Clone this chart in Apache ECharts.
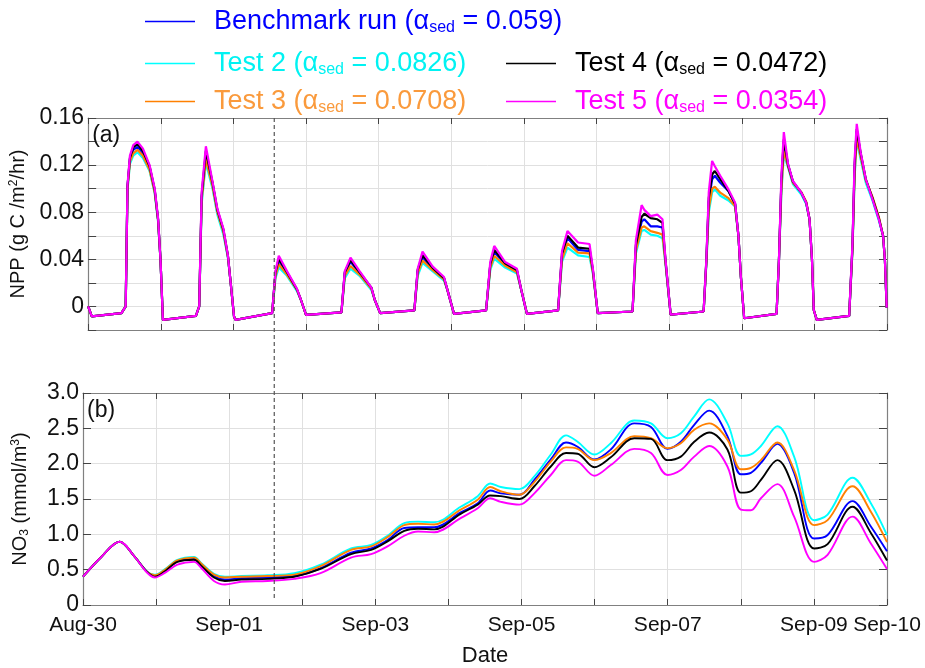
<!DOCTYPE html>
<html>
<head>
<meta charset="utf-8">
<script src="https://cdn.jsdelivr.net/npm/echarts@6/dist/echarts.min.js"></script>
<style>
  html, body { margin: 0; padding: 0; background: #fff; }
  #main { width: 925px; height: 668px; }
</style>
</head>
<body>
<div id="main"></div>
<script>
// series names / legend
var seriesNames = ['Benchmark run', 'Test 2', 'Test 3', 'Test 4', 'Test 5'];
var alphaSed = ['0.059', '0.0826', '0.0708', '0.0472', '0.0354'];
var lineColors = ['#0000ff', '#00ffff', '#ff8000', '#000000', '#ff00ff'];
var textColors = ['#0000ff', '#00f2f2', '#fa9a3c', '#000000', '#ff00ff'];

// x axis: hours since Aug-30 00:00, one tick per day
var dayLabels = ['Aug-30', '', 'Sep-01', '', 'Sep-03', '', 'Sep-05', '', 'Sep-07', '', 'Sep-09', 'Sep-10'];
var nppTickLabels = ['0', '0.04', '0.08', '0.12', '0.16'];
var no3TickLabels = ['0', '0.5', '1.0', '1.5', '2.0', '2.5', '3.0'];
var dashHour = 61.5;

// (a) NPP, g C /m2/hr
var nppHours = [0, 1.2, 11.0, 12.4, 13.0, 13.8, 14.9, 16.3, 18.1, 20.3, 22.0, 23.1, 23.9, 24.7,
  35.6, 36.7, 37.5, 38.9, 41.1, 42.7, 44.7, 46.2, 47.1, 48.2, 48.7,
  60.8, 61.9, 63.0, 65.7, 69.0, 70.3, 72.0,
  83.7, 84.8, 86.7, 89.7, 93.6, 94.7, 96.5,
  107.8, 108.9, 110.5, 113.8, 117.6, 118.7, 120.9,
  131.5, 132.9, 134.2, 137.8, 141.7, 143.1, 145.0,
  155.3, 156.6, 158.4, 161.9, 165.7, 166.8, 168.4,
  179.9, 181.0, 182.9, 183.8, 185.9, 188.1, 189.8, 190.8, 192.5,
  203.4, 204.3, 205.1, 206.2, 207.1, 208.9, 211.6, 213.8, 214.9, 215.7, 216.8,
  227.5, 228.3, 229.1, 229.9, 231.3, 232.9, 235.7, 237.3, 238.4, 239.2, 239.8, 240.8,
  251.5, 252.6, 253.3, 254.0, 255.3, 257.0, 259.2, 261.3, 262.7, 263.3, 263.9];

var nppBench = [0, -0.0085, -0.0057, 0, 0.102, 0.125, 0.133, 0.1355, 0.130, 0.118, 0.098, 0.074, 0.040, -0.0114,
  -0.008, 0, 0.092, 0.128, 0.104, 0.081, 0.064, 0.042, 0.020, -0.0085, -0.0114,
  -0.0057, 0.028, 0.039, 0.028, 0.014, 0.0057, -0.0071,
  -0.0051, 0.028, 0.038, 0.028, 0.0155, 0.0057, -0.0057,
  -0.0034, 0.030, 0.042, 0.032, 0.024, 0.0143, -0.0063,
  -0.0034, 0.035, 0.0463, 0.036, 0.030, 0.0143, -0.0063,
  -0.0034, 0.043, 0.058, 0.048, 0.047, 0.030, -0.0057,
  -0.0043, 0.050, 0.072, 0.074, 0.068, 0.068, 0.067, 0.038, -0.007,
  -0.0043, 0.038, 0.089, 0.108, 0.111, 0.105, 0.098, 0.087, 0.060, 0.0256, -0.010,
  -0.0063, 0.040, 0.105, 0.140, 0.120, 0.106, 0.096, 0.088, 0.074, 0.040, -0.003, -0.0114,
  -0.008, 0.051, 0.118, 0.149, 0.129, 0.107, 0.091, 0.074, 0.060, 0.040, -0.001];

var nppTest2 = [0, -0.0085, -0.0057, 0, 0.099, 0.121, 0.128, 0.131, 0.126, 0.115, 0.096, 0.072, 0.040, -0.0114,
  -0.008, 0, 0.087, 0.122, 0.100, 0.078, 0.061, 0.041, 0.020, -0.0085, -0.0114,
  -0.0057, 0.024, 0.033, 0.026, 0.013, 0.0057, -0.0071,
  -0.0051, 0.024, 0.032, 0.026, 0.014, 0.0057, -0.0057,
  -0.0034, 0.026, 0.037, 0.030, 0.022, 0.0143, -0.0063,
  -0.0034, 0.031, 0.0406, 0.033, 0.028, 0.0143, -0.0063,
  -0.0034, 0.038, 0.050, 0.0434, 0.042, 0.028, -0.0057,
  -0.0043, 0.045, 0.064, 0.065, 0.061, 0.060, 0.058, 0.036, -0.007,
  -0.0043, 0.036, 0.080, 0.097, 0.0994, 0.094, 0.090, 0.085, 0.060, 0.0256, -0.010,
  -0.0063, 0.040, 0.097, 0.129, 0.118, 0.104, 0.095, 0.087, 0.074, 0.040, -0.003, -0.0114,
  -0.008, 0.048, 0.110, 0.141, 0.125, 0.105, 0.090, 0.073, 0.060, 0.040, -0.001];

var nppTest3 = [0, -0.0085, -0.0057, 0, 0.100, 0.123, 0.130, 0.133, 0.128, 0.116, 0.097, 0.073, 0.040, -0.0114,
  -0.008, 0, 0.090, 0.125, 0.102, 0.080, 0.063, 0.042, 0.020, -0.0085, -0.0114,
  -0.0057, 0.026, 0.0357, 0.027, 0.014, 0.0057, -0.0071,
  -0.0051, 0.026, 0.0343, 0.027, 0.015, 0.0057, -0.0057,
  -0.0034, 0.028, 0.039, 0.031, 0.023, 0.0143, -0.0063,
  -0.0034, 0.033, 0.043, 0.0345, 0.029, 0.0143, -0.0063,
  -0.0034, 0.040, 0.0537, 0.0457, 0.045, 0.029, -0.0057,
  -0.0043, 0.047, 0.067, 0.068, 0.064, 0.0625, 0.061, 0.037, -0.007,
  -0.0043, 0.037, 0.083, 0.100, 0.1017, 0.0966, 0.092, 0.085, 0.060, 0.0256, -0.010,
  -0.0063, 0.040, 0.100, 0.132, 0.119, 0.105, 0.097, 0.089, 0.074, 0.040, -0.003, -0.0114,
  -0.008, 0.049, 0.113, 0.143, 0.127, 0.107, 0.093, 0.076, 0.060, 0.040, -0.001];

var nppTest4 = [0, -0.0085, -0.0057, 0, 0.102, 0.126, 0.135, 0.138, 0.132, 0.119, 0.099, 0.074, 0.040, -0.0114,
  -0.008, 0, 0.094, 0.132, 0.105, 0.082, 0.065, 0.043, 0.020, -0.0085, -0.0114,
  -0.0057, 0.029, 0.0406, 0.029, 0.0145, 0.0057, -0.0071,
  -0.0051, 0.029, 0.0394, 0.029, 0.016, 0.0057, -0.0057,
  -0.0034, 0.031, 0.0434, 0.033, 0.024, 0.0143, -0.0063,
  -0.0034, 0.036, 0.048, 0.0366, 0.031, 0.0143, -0.0063,
  -0.0034, 0.045, 0.060, 0.050, 0.049, 0.031, -0.0057,
  -0.0043, 0.052, 0.076, 0.0787, 0.075, 0.074, 0.071, 0.039, -0.007,
  -0.0043, 0.039, 0.092, 0.112, 0.115, 0.108, 0.098, 0.087, 0.060, 0.0256, -0.010,
  -0.0063, 0.040, 0.107, 0.142, 0.120, 0.106, 0.0966, 0.088, 0.074, 0.040, -0.003, -0.0114,
  -0.008, 0.052, 0.120, 0.1506, 0.130, 0.108, 0.092, 0.075, 0.060, 0.040, -0.001];

var nppTest5 = [0, -0.0085, -0.0057, 0, 0.103, 0.128, 0.137, 0.140, 0.134, 0.120, 0.100, 0.075, 0.040, -0.0114,
  -0.008, 0, 0.097, 0.136, 0.106, 0.083, 0.066, 0.043, 0.020, -0.0085, -0.0114,
  -0.0057, 0.030, 0.043, 0.030, 0.015, 0.0057, -0.0071,
  -0.0051, 0.030, 0.0414, 0.030, 0.016, 0.0057, -0.0057,
  -0.0034, 0.032, 0.0466, 0.034, 0.025, 0.0143, -0.0063,
  -0.0034, 0.038, 0.0514, 0.0377, 0.032, 0.0143, -0.0063,
  -0.0034, 0.047, 0.064, 0.0543, 0.053, 0.032, -0.0057,
  -0.0043, 0.056, 0.086, 0.082, 0.0767, 0.078, 0.074, 0.040, -0.007,
  -0.0043, 0.040, 0.097, 0.1236, 0.119, 0.111, 0.0994, 0.088, 0.060, 0.0256, -0.010,
  -0.0063, 0.040, 0.111, 0.148, 0.121, 0.1065, 0.0966, 0.088, 0.074, 0.040, -0.003, -0.0114,
  -0.008, 0.054, 0.125, 0.155, 0.131, 0.108, 0.091, 0.074, 0.060, 0.040, -0.001];

// (b) NO3, mmol/m3
var no3Hours = [0, 6, 12, 17, 21, 23.6, 26.7, 31, 36.5, 38.7, 43, 46.6, 52, 60.6, 69.4, 78, 88, 94.6, 100, 105.5,
  110, 115.3, 124, 129.6, 133.7, 137.2, 143.3, 148.2, 153.6, 158.6, 162.4, 167.9, 173.3, 181, 186.5, 191.9,
  196.3, 200.7, 205.6, 211.6, 216, 219.3, 222.6, 228, 233.5, 240.1, 244.5, 252.7, 258.7, 264];

var no3Bench = [0.40, 0.68, 0.895, 0.68, 0.47, 0.41, 0.48, 0.62, 0.65, 0.57, 0.41, 0.36, 0.38, 0.39, 0.41, 0.52, 0.74, 0.80, 0.92, 1.09,
  1.10, 1.10, 1.31, 1.44, 1.62, 1.58, 1.56, 1.77, 2.06, 2.30, 2.24, 2.06, 2.20, 2.57, 2.52, 2.21,
  2.31, 2.55, 2.75, 2.39, 1.85, 1.87, 2.01, 2.28, 1.87, 0.94, 0.99, 1.47, 1.11, 0.76];
var no3Test2 = [0.40, 0.68, 0.895, 0.68, 0.47, 0.43, 0.50, 0.64, 0.68, 0.60, 0.44, 0.40, 0.41, 0.42, 0.45, 0.57, 0.80, 0.85, 0.98, 1.16,
  1.18, 1.17, 1.39, 1.54, 1.72, 1.67, 1.64, 1.82, 2.13, 2.40, 2.31, 2.13, 2.29, 2.61, 2.57, 2.36,
  2.43, 2.67, 2.91, 2.57, 2.11, 2.13, 2.25, 2.53, 2.10, 1.20, 1.28, 1.80, 1.44, 0.99];
var no3Test3 = [0.40, 0.68, 0.895, 0.68, 0.47, 0.42, 0.49, 0.63, 0.67, 0.59, 0.43, 0.39, 0.40, 0.41, 0.43, 0.55, 0.78, 0.83, 0.96, 1.13,
  1.15, 1.14, 1.35, 1.49, 1.67, 1.61, 1.56, 1.74, 2.03, 2.23, 2.21, 2.05, 2.15, 2.39, 2.36, 2.22,
  2.29, 2.48, 2.57, 2.34, 1.92, 1.94, 2.05, 2.30, 1.91, 1.13, 1.20, 1.68, 1.32, 0.89];
var no3Test4 = [0.40, 0.68, 0.895, 0.68, 0.47, 0.40, 0.47, 0.61, 0.64, 0.56, 0.39, 0.34, 0.36, 0.37, 0.40, 0.51, 0.72, 0.78, 0.90, 1.05,
  1.08, 1.07, 1.29, 1.42, 1.55, 1.54, 1.50, 1.68, 1.96, 2.15, 2.14, 1.95, 2.09, 2.36, 2.35, 2.05,
  2.10, 2.31, 2.44, 2.20, 1.59, 1.61, 1.77, 2.05, 1.63, 0.80, 0.86, 1.39, 1.02, 0.63];
var no3Test5 = [0.40, 0.68, 0.895, 0.68, 0.46, 0.39, 0.45, 0.57, 0.61, 0.53, 0.34, 0.29, 0.33, 0.34, 0.37, 0.45, 0.67, 0.72, 0.83, 0.98,
  1.04, 1.03, 1.23, 1.37, 1.51, 1.46, 1.42, 1.58, 1.84, 2.05, 2.03, 1.83, 1.98, 2.21, 2.15, 1.84,
  1.91, 2.10, 2.25, 1.96, 1.35, 1.34, 1.51, 1.71, 1.25, 0.61, 0.71, 1.25, 0.87, 0.51];

var nppAll = [nppBench, nppTest2, nppTest3, nppTest4, nppTest5];
var no3All = [no3Bench, no3Test2, no3Test3, no3Test4, no3Test5];

function pairs(xs, ys) {
  return xs.map(function (x, i) { return [x, ys[i]]; });
}

var font = "'Liberation Sans', Arial, sans-serif";
var frameColor = '#808080';
var gridColor = '#e0e0e0';

function xAxisOf(grid, pos, labels) {
  return {
    type: 'value', gridIndex: grid, position: pos, min: 0, max: 264, interval: 24,
    axisLine: { onZero: false, lineStyle: { color: frameColor, width: 1.2 } },
    axisTick: { inside: true, length: 6, lineStyle: { color: '#444' } },
    splitLine: { show: pos === 'bottom', lineStyle: { color: gridColor } },
    axisLabel: {
      show: !!labels, margin: 10, fontSize: 21, color: '#111', fontFamily: font,
      formatter: function (v) { return dayLabels[Math.round(v / 24)] || ''; }
    }
  };
}

function yAxisOf(grid, pos, min, max, step, labels, name) {
  var ax = {
    type: 'value', gridIndex: grid, position: pos, min: min, max: max, interval: step,
    axisLine: { onZero: false, lineStyle: { color: frameColor, width: 1.2 } },
    axisTick: { inside: true, length: 8, lineStyle: { color: '#444' } },
    splitLine: { show: pos === 'left', lineStyle: { color: gridColor } },
    axisLabel: {
      show: !!labels, margin: 4, fontSize: 23, color: '#111', fontFamily: font,
      formatter: function (v) {
        var k = Math.round(v / labels.step);
        if (Math.abs(v - k * labels.step) > 1e-9 || k < 0) return '';
        return labels.list[k] || '';
      }
    }
  };
  if (name) {
    ax.name = name;
    ax.nameLocation = 'middle';
    ax.nameGap = 52;
    ax.nameTextStyle = {
      fontSize: 20, color: '#111', fontFamily: font,
      rich: {
        sup: { fontSize: 12, fontFamily: font, color: '#111', padding: [0, 0, 9, 0] },
        sub: { fontSize: 12, fontFamily: font, color: '#111', padding: [9, 0, 0, 0] }
      }
    };
  }
  return ax;
}

var drawOrder = [1, 2, 0, 3, 4];
var series = [];
drawOrder.forEach(function (i) {
  series.push({
    name: seriesNames[i], type: 'line', xAxisIndex: 0, yAxisIndex: 0,
    data: pairs(nppHours, nppAll[i]), showSymbol: false, symbol: 'none',
    lineStyle: { color: lineColors[i], width: 2.2 }, itemStyle: { color: lineColors[i] },
    z: 2 + i
  });
});
drawOrder.forEach(function (i) {
  series.push({
    name: seriesNames[i], type: 'line', xAxisIndex: 2, yAxisIndex: 2,
    data: pairs(no3Hours, no3All[i]), showSymbol: false, symbol: 'none', smooth: 0.35,
    lineStyle: { color: lineColors[i], width: 1.9 }, itemStyle: { color: lineColors[i] },
    z: 2 + i
  });
});

var legendSpots = [[145, 8], [145, 50], [145, 88], [506, 50], [506, 88]];
var legends = seriesNames.map(function (n, i) {
  return {
    data: [{ name: n, textStyle: { color: textColors[i] } }],
    left: legendSpots[i][0], top: legendSpots[i][1], padding: 0,
    icon: 'rect', itemWidth: 50, itemHeight: 1.5,
    selectedMode: false,
    formatter: function (name) {
      var k = seriesNames.indexOf(name);
      return '{t|' + name + ' (\u03b1}{s|sed}{t| = ' + alphaSed[k] + ')}';
    },
    textStyle: {
      color: textColors[i], fontFamily: font, fontSize: 27, padding: [0, 0, 0, 14],
      rich: {
        t: { color: textColors[i], fontSize: 27, fontFamily: font },
        s: { color: textColors[i], fontSize: 16, fontFamily: font, padding: [13, 0, 0, 0] }
      }
    }
  };
});

var chart = echarts.init(document.getElementById('main'), null, { renderer: 'canvas' });
chart.setOption({
  animation: false,
  backgroundColor: '#fff',
  legend: legends,
  grid: [
    { left: 83, top: 118, width: 804, height: 212 },
    { left: 83, top: 393, width: 804, height: 212 }
  ],
  xAxis: [
    xAxisOf(0, 'bottom', false),
    xAxisOf(0, 'top', false),
    Object.assign(xAxisOf(1, 'bottom', true), {
      name: 'Date', nameLocation: 'middle', nameGap: 40,
      nameTextStyle: { fontSize: 22, color: '#111', fontFamily: font }
    }),
    xAxisOf(1, 'top', false)
  ],
  yAxis: [
    yAxisOf(0, 'left', -0.02, 0.16, 0.02, { step: 0.04, list: nppTickLabels }, 'NPP (g C /m{sup|2}/hr)'),
    yAxisOf(0, 'right', -0.02, 0.16, 0.02, null),
    yAxisOf(1, 'left', 0, 3, 0.5, { step: 0.5, list: no3TickLabels }, 'NO{sub|3} (mmol/m{sup|3})'),
    yAxisOf(1, 'right', 0, 3, 0.5, null)
  ],
  series: series
});

// dashed marker through both panels, placed with the axes' own scales
var dx = chart.convertToPixel({ xAxisIndex: 0 }, dashHour);
var dyTop = chart.convertToPixel({ yAxisIndex: 0 }, 0.16);
var dyBottom = chart.convertToPixel({ yAxisIndex: 2 }, 0.07);
var aPos = chart.convertToPixel({ xAxisIndex: 0, yAxisIndex: 0 }, [0, 0.16]);
var bPos = chart.convertToPixel({ xAxisIndex: 2, yAxisIndex: 2 }, [0, 3]);
chart.setOption({
  graphic: [
    {
      type: 'line', z: 50, silent: true,
      shape: { x1: dx, y1: dyTop, x2: dx, y2: dyBottom },
      style: { stroke: '#555', lineWidth: 1.2, lineDash: [4, 3] }
    },
    {
      type: 'text', z: 50, left: aPos[0] + 4, top: aPos[1] + 6,
      style: { text: '(a)', fontSize: 23, fontFamily: font, fill: '#111' }
    },
    {
      type: 'text', z: 50, left: bPos[0] + 4, top: bPos[1] + 6,
      style: { text: '(b)', fontSize: 23, fontFamily: font, fill: '#111' }
    }
  ]
});
</script>
</body>
</html>
